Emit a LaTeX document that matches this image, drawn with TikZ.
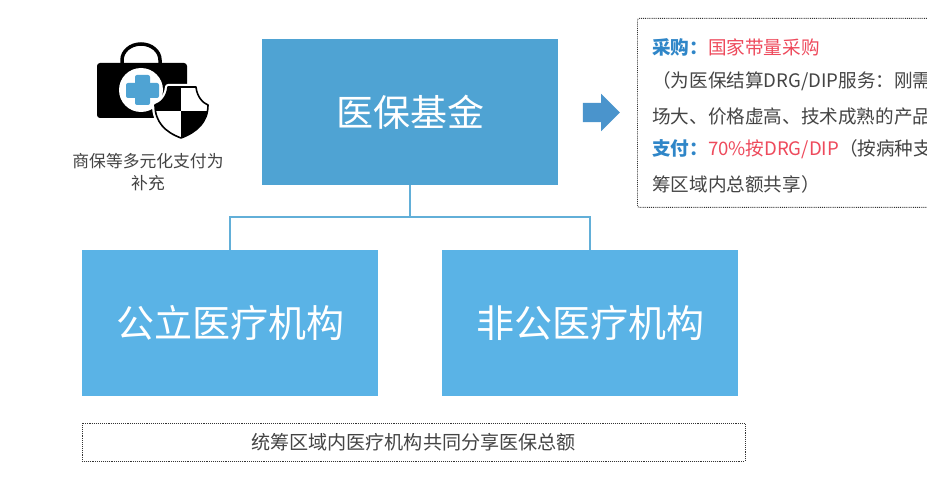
\documentclass[tikz,border=0pt]{standalone}
\usepackage{fontspec}
\usepackage{xcolor}
\usetikzlibrary{shapes.arrows}
\setmainfont{Noto Sans CJK SC}
\definecolor{fundblue}{HTML}{4FA3D3}
\definecolor{hospblue}{HTML}{5AB3E6}
\definecolor{linkblue}{HTML}{62AFD8}
\definecolor{arrowblue}{HTML}{4A94CC}
\definecolor{labelblue}{HTML}{2F86C8}
\definecolor{labelred}{HTML}{EE4A5C}
\definecolor{bodygray}{HTML}{444444}
\newcommand{\pxfont}[1]{\fontsize{#1}{#1}\selectfont}
\tikzset{
    fundbox/.style = {rectangle, minimum width=296pt, minimum height=146pt, inner sep=0pt, text centered, fill=fundblue, text=white, font=\pxfont{37}},
    hospbox/.style = {rectangle, minimum width=296pt, minimum height=146pt, inner sep=0pt, text centered, fill=hospblue, text=white, font=\pxfont{38}},
    notebox/.style = {rectangle, draw=black!80, densely dotted, line width=0.9pt, inner sep=0pt},
    infotext/.style = {anchor=west, inner sep=0pt, text=bodygray, font=\pxfont{18.6}},
    sidetext/.style = {inner sep=0pt, text=bodygray, font=\pxfont{16.8}},
    link/.style = {linkblue, line width=2pt}
}
\begin{document}
\begin{tikzpicture}[x=1pt,y=-1pt]
\path[use as bounding box, clip] (0,0) rectangle (927,500);
\fill[white] (0,0) rectangle (927,500);

\node (fund) [fundbox] at (410,112) {\raisebox{1pt}{医保基金}};
\node (public) [hospbox] at (230,323) {\raisebox{2pt}{公立医疗机构}};
\node (private) [hospbox] at (590,323) {\raisebox{2pt}{非公医疗机构}};
\node (shared) [notebox, minimum width=663pt, minimum height=38pt, text=bodygray, font=\pxfont{19.1}] at (413.5,442) {统筹区域内医疗机构共同分享医保总额};

\coordinate (junction) at (fund.south |- 0,217);
\coordinate (leftturn) at (public.north |- junction);
\coordinate (rightturn) at (private.north |- junction);
\draw [link] (fund.south) -- (junction);
\draw [link] (public.north) -- (leftturn) -- (rightturn) -- (private.north);

\node (pointer) [single arrow, fill=arrowblue, text width=18pt, minimum height=37pt, inner xsep=0pt, inner ysep=0pt, text height=19pt, single arrow head extend=9pt, single arrow tip angle=90] at (596.5,112.5) {};

% purchase and payment notes
\node (note) [notebox, rounded corners=2pt, anchor=north west, minimum width=320pt, minimum height=189pt] at (637,18) {};
\node (line1) [infotext] at (652,47) {\textcolor{labelblue}{\textbf{采购：}}\textcolor{labelred}{国家带量采购}};
\node (line2) [infotext] at (652,81) {（为医保结算DRG/DIP服务：刚需};
\node (line3) [infotext] at (652,116) {场大、价格虚高、技术成熟的产品};
\node (line4) [infotext] at (652,149) {\textcolor{labelblue}{\textbf{支付：}}\textcolor{labelred}{70\%按DRG/DIP}（按病种支付};
\node (line5) [infotext] at (652,184) {筹区域内总额共享）};

% bag and shield icon
\draw [line width=3.5pt] (122,64) -- (122,60) arc (180:360:19 and 16) -- (160,64);
\fill [black, rounded corners=3pt] (97,63) rectangle (187,118);
\fill [white] (141,90) circle (22);
\fill [fundblue, rounded corners=2pt] (135,75) rectangle (150,105);
\fill [fundblue, rounded corners=2pt] (126,83) rectangle (159,98);
\path [fill=white, draw=white, line width=6pt, line join=round]
    (168,87) -- (196,87) .. controls (197,97) and (203,103) .. (208,105)
    .. controls (208,122) and (197,132) .. (181,138)
    .. controls (165,132) and (155,122) .. (155,105)
    .. controls (161,103) and (167,97) .. (168,87) -- cycle;
\begin{scope}
\clip (168,87) -- (196,87) .. controls (197,97) and (203,103) .. (208,105)
    .. controls (208,122) and (197,132) .. (181,138)
    .. controls (165,132) and (155,122) .. (155,105)
    .. controls (161,103) and (167,97) .. (168,87) -- cycle;
\fill [black] (150,85) rectangle (181,111);
\fill [black] (181,111) rectangle (210,140);
\end{scope}
\draw [line width=1.6pt, line join=round]
    (168,87) -- (196,87) .. controls (197,97) and (203,103) .. (208,105)
    .. controls (208,122) and (197,132) .. (181,138)
    .. controls (165,132) and (155,122) .. (155,105)
    .. controls (161,103) and (167,97) .. (168,87) -- cycle;

\node (sideline1) [sidetext] at (148,161) {商保等多元化支付为};
\node (sideline2) [sidetext] at (148,183) {补充};
\end{tikzpicture}
\end{document}
